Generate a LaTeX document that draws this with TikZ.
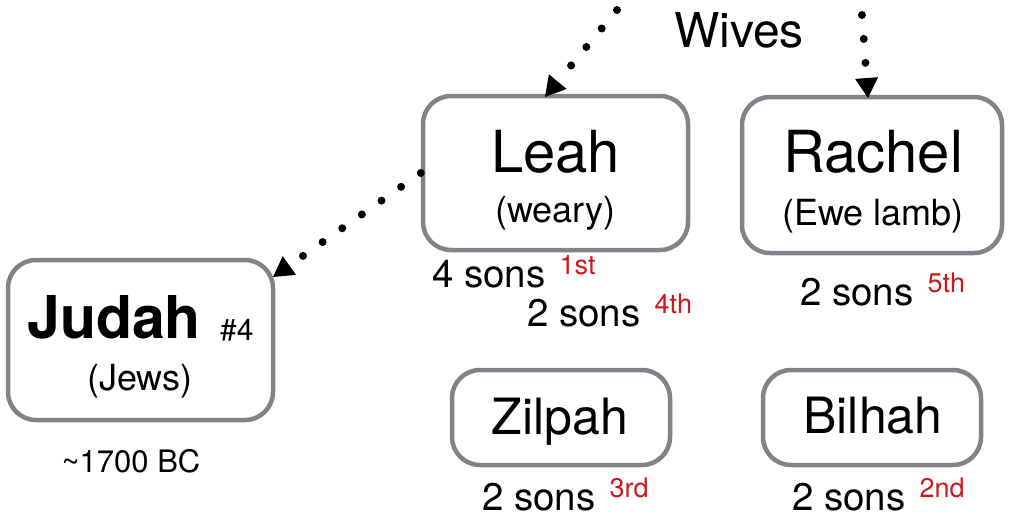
\documentclass[tikz,border=0pt]{standalone}
\usepackage{fontspec}
\setmainfont{TeX Gyre Heros}
\usetikzlibrary{arrows.meta}
\definecolor{boxgray}{RGB}{128,131,135}
\definecolor{ordred}{RGB}{200,25,30}
\newcommand{\ordmark}[1]{\hspace{14pt}\textcolor{ordred}{\raisebox{13pt}{\fontsize{27}{27}\selectfont #1}}}
\tikzset{
  box/.style={draw=boxgray, line width=4.5pt, rounded corners=28pt, fill=white, inner sep=0pt},
  dotarrow/.style={line width=8pt, line cap=round, dash pattern=on 0pt off 24pt,
    -{Triangle[length=20pt,width=23pt,line width=0pt]}},
  bigname/.style={font=\fontsize{58}{58}\selectfont, anchor=base, inner sep=0pt},
  subname/.style={font=\fontsize{36}{36}\selectfont, anchor=base, inner sep=0pt},
  midname/.style={font=\fontsize{50}{50}\selectfont, anchor=base, inner sep=0pt},
  sons/.style={font=\fontsize{38.5}{38.5}\selectfont, anchor=base west, inner sep=0pt},
}
\begin{document}
\begin{tikzpicture}[x=1pt,y=-1pt]
\useasboundingbox (0,0) rectangle (1009,519);
% boxes
\node[box, minimum width=265pt, minimum height=154pt] (leah) at (555.5,173) {};
\node[box, minimum width=260pt, minimum height=156pt] (rachel) at (872,175) {};
\node[box, minimum width=265pt, minimum height=160pt] (judah) at (140.5,340) {};
\node[box, minimum width=218pt, minimum height=95pt] (zilpah) at (561,417.5) {};
\node[box, minimum width=218pt, minimum height=95pt] (bilhah) at (872,417.5) {};
% texts
\node[font=\fontsize{48}{48}\selectfont, anchor=base, inner sep=0pt] (wives) at (739,48) {Wives};
\node[bigname] (leahname) at (555.5,172) {Leah};
\node[subname] (leahsub) at (555.5,222) {(weary)};
\node[bigname] (rachelname) at (873,172) {Rachel};
\node[subname] (rachelsub) at (873,225) {(Ewe lamb)};
\node[font=\fontsize{59}{59}\selectfont\bfseries, anchor=base west, inner sep=0pt] (judahname) at (27,338) {Judah};
\node[font=\fontsize{30}{30}\selectfont, anchor=base west, inner sep=0pt] (judahnum) at (220,340) {\#4};
\node[subname] (judahsub) at (140,390) {(Jews)};
\node[font=\fontsize{31}{31}\selectfont, anchor=base, inner sep=0pt] (date) at (131,472) {\textasciitilde 1700 BC};
\node[midname] (zilpahname) at (560,434) {Zilpah};
\node[midname] (bilhahname) at (873,433) {Bilhah};
% sons
\node[sons] (leahsonsA) at (432,287) {4 sons\ordmark{1st}};
\node[sons] (leahsonsB) at (527,326) {2 sons\ordmark{4th}};
\node[sons] (rachelsons) at (800,305) {2 sons\ordmark{5th}};
\node[sons] (zilpahsons) at (482,510) {2 sons\ordmark{3rd}};
\node[sons] (bilhahsons) at (792,510) {2 sons\ordmark{2nd}};
% arrows
\coordinate (aonestart) at (617,10);
\coordinate (aoneend) at (545,97);
\coordinate (atwostart) at (862,15);
\coordinate (atwoend) at (868,98);
\coordinate (athreeend) at (273,277);
\draw[dotarrow] (aonestart) -- (aoneend);
\draw[dotarrow] (atwostart) -- (atwoend);
\draw[dotarrow] (leah.west) -- (athreeend);
\end{tikzpicture}
\end{document}
